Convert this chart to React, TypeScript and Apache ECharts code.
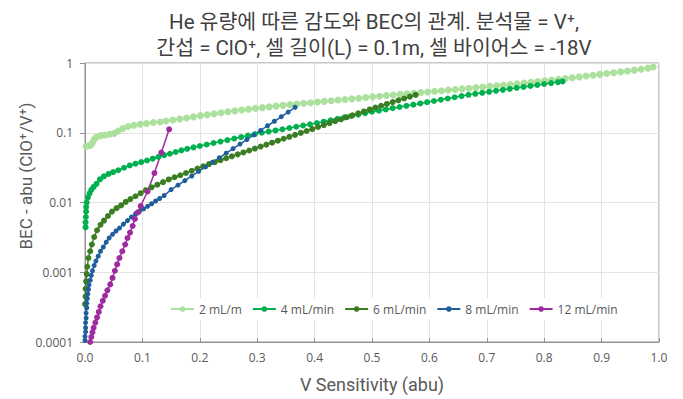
import React, { useEffect, useRef } from 'react';
import * as echarts from 'echarts';

const seriesNames = ['2 mL/m', '4 mL/min', '6 mL/min', '8 mL/min', '12 mL/min'];
const seriesColors = ['#abe09d', '#00b04f', '#3b7d23', '#1f5e9c', '#a02ba0'];
const yTickLabels = ['0.0001', '0.001', '0.01', '0.1', '1'];
const xTickLabels = ['0.0', '0.1', '0.2', '0.3', '0.4', '0.5', '0.6', '0.7', '0.8', '0.9', '1.0'];

// 2 mL/m
const s1x = [0.002, 0.006, 0.010, 0.013, 0.016, 0.020, 0.027, 0.035, 0.043, 0.051, 0.058, 0.066, 0.075, 0.085, 0.096, 0.107, 0.119, 0.131, 0.141, 0.153, 0.165, 0.177, 0.189, 0.201, 0.213, 0.225, 0.237, 0.249, 0.261, 0.273, 0.285, 0.297, 0.309, 0.321, 0.333, 0.345, 0.357, 0.369, 0.381, 0.393, 0.405, 0.417, 0.429, 0.441, 0.453, 0.465, 0.477, 0.489, 0.501, 0.513, 0.525, 0.537, 0.549, 0.561, 0.573, 0.585, 0.597, 0.609, 0.621, 0.633, 0.645, 0.657, 0.669, 0.681, 0.693, 0.705, 0.717, 0.729, 0.741, 0.753, 0.765, 0.777, 0.789, 0.801, 0.813, 0.825, 0.837, 0.849, 0.861, 0.873, 0.885, 0.897, 0.909, 0.921, 0.933, 0.945, 0.957, 0.969, 0.981, 0.990];
const s1y = [0.064, 0.065, 0.066, 0.072, 0.080, 0.087, 0.091, 0.093, 0.095, 0.098, 0.106, 0.115, 0.123, 0.128, 0.132, 0.136, 0.140, 0.143, 0.147, 0.152, 0.157, 0.163, 0.169, 0.176, 0.181, 0.187, 0.194, 0.200, 0.206, 0.212, 0.218, 0.224, 0.229, 0.235, 0.241, 0.247, 0.253, 0.258, 0.264, 0.270, 0.276, 0.282, 0.288, 0.294, 0.300, 0.306, 0.313, 0.320, 0.327, 0.334, 0.341, 0.348, 0.355, 0.362, 0.369, 0.377, 0.385, 0.393, 0.401, 0.409, 0.417, 0.426, 0.435, 0.444, 0.453, 0.462, 0.471, 0.481, 0.493, 0.504, 0.516, 0.529, 0.542, 0.556, 0.570, 0.585, 0.600, 0.616, 0.632, 0.650, 0.668, 0.687, 0.706, 0.726, 0.746, 0.767, 0.790, 0.815, 0.845, 0.875];

// 4 mL/min
const s2x = [0.001, 0.001, 0.0015, 0.002, 0.002, 0.003, 0.005, 0.008, 0.011, 0.015, 0.020, 0.026, 0.033, 0.041, 0.049, 0.058, 0.068, 0.078, 0.088, 0.098, 0.108, 0.118, 0.128, 0.138, 0.148, 0.158, 0.168, 0.178, 0.189, 0.200, 0.212, 0.224, 0.236, 0.248, 0.260, 0.272, 0.284, 0.296, 0.308, 0.320, 0.332, 0.344, 0.356, 0.368, 0.380, 0.392, 0.404, 0.416, 0.428, 0.440, 0.452, 0.464, 0.476, 0.488, 0.500, 0.512, 0.524, 0.536, 0.548, 0.560, 0.572, 0.584, 0.596, 0.608, 0.620, 0.632, 0.644, 0.656, 0.668, 0.680, 0.692, 0.704, 0.716, 0.728, 0.740, 0.752, 0.764, 0.776, 0.788, 0.800, 0.812, 0.824, 0.832];
const s2y = [0.0044, 0.0052, 0.0062, 0.0074, 0.0086, 0.0100, 0.0118, 0.0135, 0.0152, 0.0167, 0.0185, 0.0215, 0.0237, 0.0257, 0.0273, 0.0290, 0.0315, 0.0340, 0.0360, 0.0380, 0.0400, 0.0425, 0.0450, 0.0478, 0.0500, 0.0530, 0.0560, 0.0588, 0.0617, 0.0646, 0.0678, 0.0713, 0.0748, 0.0786, 0.0826, 0.0867, 0.0911, 0.0957, 0.100, 0.104, 0.108, 0.112, 0.117, 0.122, 0.127, 0.132, 0.138, 0.144, 0.151, 0.158, 0.166, 0.174, 0.182, 0.191, 0.200, 0.207, 0.216, 0.225, 0.234, 0.243, 0.253, 0.263, 0.274, 0.285, 0.297, 0.310, 0.323, 0.336, 0.350, 0.362, 0.374, 0.386, 0.399, 0.412, 0.426, 0.440, 0.454, 0.469, 0.484, 0.500, 0.516, 0.532, 0.544];

// 6 mL/min
const s3x = [0.000, 0.001, 0.001, 0.002, 0.003, 0.004, 0.006, 0.009, 0.012, 0.016, 0.021, 0.027, 0.033, 0.040, 0.047, 0.055, 0.063, 0.071, 0.079, 0.088, 0.097, 0.106, 0.116, 0.126, 0.136, 0.146, 0.156, 0.166, 0.176, 0.186, 0.196, 0.206, 0.216, 0.226, 0.236, 0.246, 0.256, 0.266, 0.276, 0.286, 0.296, 0.306, 0.316, 0.326, 0.336, 0.346, 0.356, 0.366, 0.376, 0.386, 0.396, 0.406, 0.416, 0.426, 0.436, 0.446, 0.456, 0.466, 0.476, 0.486, 0.496, 0.506, 0.516, 0.526, 0.536, 0.546, 0.556, 0.566, 0.576];
const s3y = [0.00035, 0.00045, 0.00058, 0.00074, 0.00094, 0.0012, 0.0016, 0.0020, 0.0025, 0.0032, 0.0040, 0.0048, 0.0055, 0.0064, 0.0074, 0.0083, 0.0091, 0.0102, 0.0112, 0.0123, 0.0136, 0.0150, 0.0165, 0.0180, 0.0196, 0.0214, 0.0230, 0.0246, 0.0265, 0.0285, 0.0307, 0.0330, 0.0355, 0.0378, 0.0404, 0.0431, 0.0459, 0.0490, 0.0522, 0.0557, 0.0594, 0.0634, 0.0676, 0.0721, 0.0769, 0.0820, 0.0875, 0.0933, 0.0995, 0.106, 0.113, 0.121, 0.129, 0.137, 0.147, 0.156, 0.167, 0.178, 0.190, 0.202, 0.216, 0.230, 0.244, 0.259, 0.275, 0.292, 0.310, 0.329, 0.349];

// 8 mL/min
const s4x = [0.000, 0.000, 0.001, 0.001, 0.001, 0.002, 0.002, 0.003, 0.003, 0.004, 0.005, 0.006, 0.007, 0.009, 0.011, 0.013, 0.016, 0.019, 0.023, 0.027, 0.032, 0.037, 0.042, 0.048, 0.054, 0.060, 0.067, 0.074, 0.081, 0.088, 0.095, 0.102, 0.109, 0.116, 0.123, 0.130, 0.138, 0.150, 0.162, 0.174, 0.186, 0.198, 0.210, 0.222, 0.234, 0.246, 0.258, 0.270, 0.282, 0.294, 0.306, 0.318, 0.330, 0.342, 0.354, 0.366];
const s4y = [0.000105, 0.00012, 0.00014, 0.00016, 0.00019, 0.00022, 0.00026, 0.00031, 0.00036, 0.00042, 0.00049, 0.00057, 0.00066, 0.00077, 0.00090, 0.00105, 0.00125, 0.00145, 0.0017, 0.0020, 0.0023, 0.0027, 0.0031, 0.0035, 0.0039, 0.0043, 0.0049, 0.0055, 0.0062, 0.0069, 0.0075, 0.0081, 0.0088, 0.0096, 0.0105, 0.0114, 0.0126, 0.0153, 0.0177, 0.0206, 0.0240, 0.0279, 0.0324, 0.0377, 0.0438, 0.0509, 0.0592, 0.0688, 0.0800, 0.0931, 0.108, 0.126, 0.146, 0.170, 0.198, 0.232];

// 12 mL/min
const s5x = [0.009, 0.011, 0.013, 0.015, 0.018, 0.021, 0.024, 0.027, 0.031, 0.035, 0.039, 0.044, 0.048, 0.052, 0.056, 0.060, 0.065, 0.070, 0.074, 0.0785, 0.083, 0.087, 0.092, 0.097, 0.109, 0.121, 0.133, 0.1466];
const s5y = [0.000100, 0.000118, 0.000138, 0.000160, 0.000190, 0.000225, 0.000270, 0.000325, 0.000390, 0.000460, 0.000550, 0.000670, 0.00083, 0.00105, 0.00130, 0.00160, 0.0020, 0.0025, 0.0031, 0.0037, 0.0046, 0.0058, 0.0072, 0.0089, 0.0144, 0.0264, 0.052, 0.112];

const seriesX = [s1x, s2x, s3x, s4x, s5x];
const seriesY = [s1y, s2y, s3y, s4y, s5y];
const symbolSizes = [7, 6, 6, 5, 6];

const SANS = 'Roboto, "Noto Sans CJK KR", sans-serif';
const TICK = '"Open Sans", "Noto Sans", sans-serif';

export default function App() {
  const ref = useRef<HTMLDivElement>(null);
  useEffect(() => {
    if (!ref.current) return;
    const chart = echarts.init(ref.current, undefined, { renderer: 'svg' });
    const series = seriesNames.map((name, i) => ({
      name,
      type: 'line',
      data: seriesX[i].map((x, j) => [x, seriesY[i][j]]),
      symbol: 'circle',
      symbolSize: symbolSizes[i],
      showSymbol: true,
      clip: false,
      lineStyle: { color: seriesColors[i], width: 1.5 },
      itemStyle: { color: seriesColors[i] },
      emphasis: { disabled: true },
    }));
    chart.setOption({
      animation: false,
      backgroundColor: '#ffffff',
      title: {
        text: 'He 유량에 따른 감도와 BEC의 관계. 분석물 = V⁺,\n간섭 = ClO⁺, 셀 길이(L) = 0.1m, 셀 바이어스 = -18V',
        left: 369,
        top: 4,
        textAlign: 'center',
        textStyle: { fontSize: 20.5, fontWeight: 'normal', color: '#404040', lineHeight: 26, fontFamily: SANS },
      },
      grid: { left: 85, right: 24, top: 63, bottom: 57, show: true, borderColor: '#939393', borderWidth: 1, backgroundColor: 'transparent' },
      legend: {
        data: seriesNames,
        left: 165,
        top: 298,
        padding: [5, 5],
        backgroundColor: '#ffffff',
        itemWidth: 23,
        itemHeight: 7,
        itemGap: 10,
        textStyle: { color: '#595959', fontSize: 12, fontFamily: TICK },
      },
      xAxis: {
        type: 'value',
        min: 0,
        max: 1,
        interval: 0.1,
        name: 'V Sensitivity (abu)',
        nameLocation: 'middle',
        nameGap: 33,
        nameTextStyle: { fontSize: 18, color: '#595959', fontFamily: SANS },
        axisLine: { show: true, lineStyle: { color: '#939393', width: 1 } },
        axisTick: { show: true, inside: true, length: 4, lineStyle: { color: '#939393' } },
        axisLabel: {
          color: '#595959', fontSize: 12, fontFamily: TICK, margin: 9,
          formatter: (v: number) => xTickLabels[Math.round(v * 10)] ?? '',
        },
        splitLine: { show: true, lineStyle: { color: '#e3e3e3', width: 1 } },
      },
      yAxis: {
        type: 'log',
        logBase: 10,
        min: 0.0001,
        max: 1,
        axisLine: { show: true, lineStyle: { color: '#939393', width: 1 } },
        axisTick: { show: true, inside: false, length: 5, lineStyle: { color: '#939393' } },
        axisLabel: {
          color: '#595959', fontSize: 12, fontFamily: TICK, margin: 12,
          formatter: (v: number) => yTickLabels[Math.round(Math.log10(v)) + 4] ?? '',
        },
        splitLine: { show: true, lineStyle: { color: '#e3e3e3', width: 1 } },
        minorTick: { show: false },
      },
      graphic: [
        {
          type: 'text',
          x: 26,
          y: 176,
          rotation: Math.PI / 2,
          style: {
            text: 'BEC - abu (ClO⁺/V⁺)',
            fontSize: 17,
            fill: '#595959',
            fontFamily: SANS,
            textAlign: 'center',
            textVerticalAlign: 'middle',
          },
        },
      ],
      series,
    });
    return () => chart.dispose();
  }, []);
  return <div ref={ref} style={{ position: 'fixed', left: 0, top: 0, width: 683, height: 399 }} />;
}
